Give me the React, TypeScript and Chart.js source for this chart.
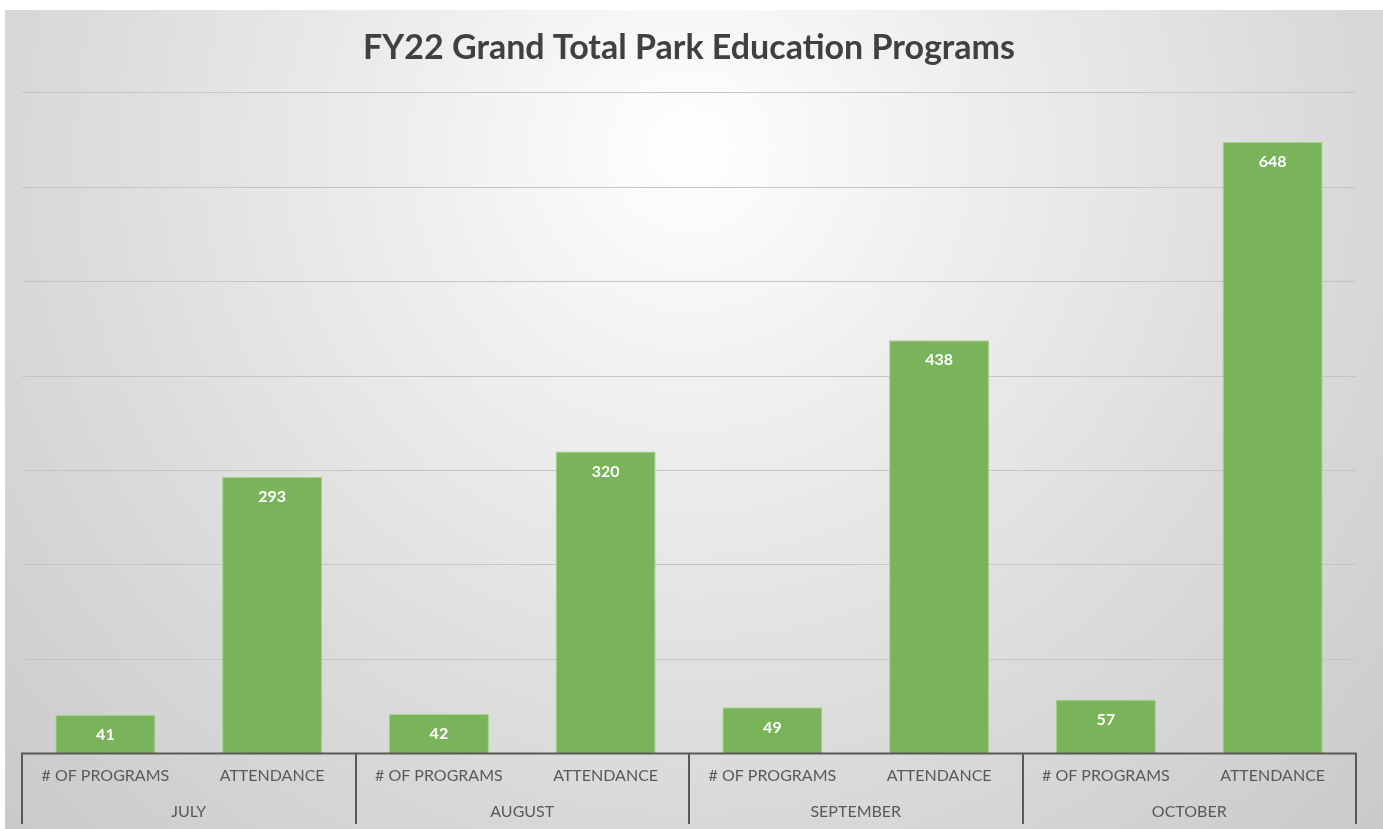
import React, { useEffect, useRef } from "react";
import { Chart, registerables } from "chart.js";

Chart.register(...registerables);

const TITLE = "FY22 Grand Total Park Education Programs";
const MONTHS = ["JULY", "AUGUST", "SEPTEMBER", "OCTOBER"];
const MEASURES = ["# OF PROGRAMS", "ATTENDANCE"];
const CATEGORIES = MONTHS.flatMap(() => MEASURES);
const VALUES = [41, 293, 42, 320, 49, 438, 57, 648];
const Y_MAX = 700;
const Y_STEP = 100;

const W = 1383;
const H = 829;
const AXIS_COLOR = "#595959";
const FONT = "Lato, 'Open Sans', sans-serif";

const backgroundPlugin = {
  id: "bg",
  beforeDraw(chart: any) {
    const { ctx } = chart;
    ctx.save();
    ctx.fillStyle = "#ffffff";
    ctx.fillRect(0, 0, W, H);
    const g = ctx.createRadialGradient(690, 150, 0, 690, 150, 1000);
    g.addColorStop(0, "#ffffff");
    g.addColorStop(0.25, "#f0f0f0");
    g.addColorStop(0.6, "#dcdcdc");
    g.addColorStop(1, "#c8c8c8");
    ctx.fillStyle = g;
    ctx.fillRect(5, 10, W - 5, H - 10);
    ctx.restore();
  },
};

const axisLinesPlugin = {
  id: "axisLines",
  afterDatasetsDraw(chart: any) {
    const { ctx, chartArea } = chart;
    const x = chart.scales.x;
    const yBase = chart.scales.y.getPixelForValue(0);
    ctx.save();
    ctx.strokeStyle = AXIS_COLOR;
    ctx.lineWidth = 2;
    ctx.beginPath();
    ctx.moveTo(chartArea.left, yBase);
    ctx.lineTo(chartArea.right, yBase);
    const half = (x.getPixelForValue(1) - x.getPixelForValue(0)) / 2;
    for (let i = 0; i <= CATEGORIES.length; i += MEASURES.length) {
      const px = i < CATEGORIES.length ? x.getPixelForValue(i) - half : x.getPixelForValue(i - 1) + half;
      ctx.moveTo(Math.round(px), yBase - 1);
      ctx.lineTo(Math.round(px), 824);
    }
    ctx.stroke();

    // data labels
    const meta = chart.getDatasetMeta(0);
    ctx.fillStyle = "#ffffff";
    ctx.font = `bold 16px ${FONT}`;
    ctx.textAlign = "center";
    ctx.textBaseline = "middle";
    meta.data.forEach((bar: any, i: number) => {
      ctx.fillText(String(VALUES[i]), bar.x, bar.y + 20);
    });
    ctx.restore();
  },
};

export default function App() {
  const ref = useRef<HTMLCanvasElement | null>(null);

  useEffect(() => {
    if (!ref.current) return;
    const chart = new Chart(ref.current, {
      type: "bar",
      data: {
        labels: CATEGORIES,
        datasets: [
          {
            data: VALUES,
            backgroundColor: "#7ab45a",
            borderColor: "#a6d48a",
            borderWidth: { top: 1, left: 1, right: 1, bottom: 0 },
            barPercentage: 0.6,
            categoryPercentage: 1,
          },
        ],
      },
      options: {
        responsive: false,
        animation: false,
        layout: { padding: { left: 22, right: 27, top: 0, bottom: 5 } },
        plugins: {
          legend: { display: false },
          tooltip: { enabled: false },
          title: {
            display: true,
            text: TITLE,
            color: "#404040",
            font: { family: FONT, size: 34, weight: "bold" },
            padding: { top: 28, bottom: 24 },
          },
        },
        scales: {
          y: {
            min: 0,
            max: Y_MAX,
            ticks: { display: false, stepSize: Y_STEP },
            grid: { color: "#c4c4c4", lineWidth: 1, drawTicks: false },
            border: { display: false },
          },
          x: {
            offset: true,
            ticks: {
              color: AXIS_COLOR,
              font: { family: FONT, size: 16 },
              padding: 13,
              maxRotation: 0,
              autoSkip: false,
            },
            grid: { display: false, drawTicks: false },
            border: { display: false },
          },
          x2: {
            type: "category",
            position: "bottom",
            labels: MONTHS,
            offset: true,
            ticks: {
              color: AXIS_COLOR,
              font: { family: FONT, size: 16 },
              padding: 3,
              maxRotation: 0,
              autoSkip: false,
            },
            grid: { display: false, drawTicks: false },
            border: { display: false },
          },
        },
      } as any,
      plugins: [backgroundPlugin, axisLinesPlugin],
    });
    return () => chart.destroy();
  }, []);

  return (
    <div style={{ position: "absolute", left: 0, top: 0, width: W, height: H }}>
      <canvas ref={ref} width={W} height={H} style={{ width: W, height: H, display: "block" }} />
    </div>
  );
}
